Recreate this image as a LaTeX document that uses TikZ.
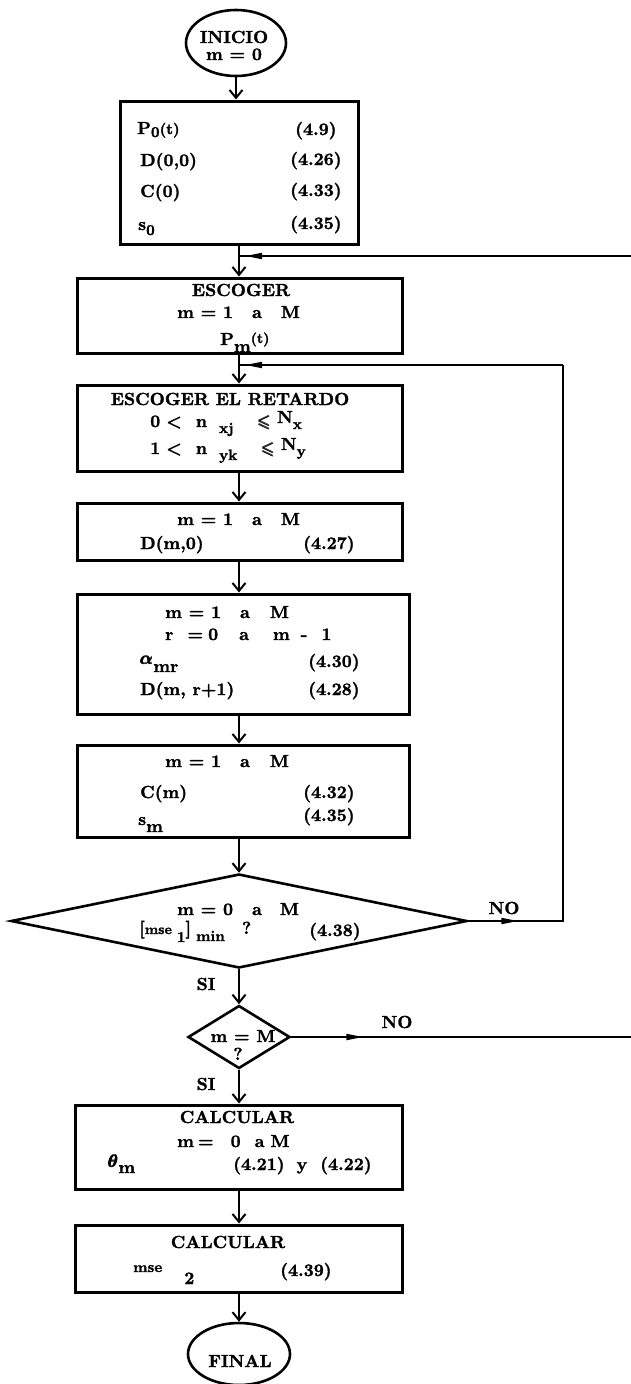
\documentclass[tikz,border=0pt]{standalone}
\usepackage{fontspec}
\setmainfont{lmroman10}[Extension=.otf, UprightFont=*-regular,
  BoldFont=*-bold, BoldFeatures={FakeBold=1.6}]
\usepackage{amsmath,amssymb}
\usetikzlibrary{shapes.geometric,arrows.meta,decorations.markings}

\newcommand{\bajo}[2][-6pt]{\raisebox{#1}{\fontsize{15}{15}\selectfont #2}}
\newcommand{\chico}[1]{{\fontsize{14}{14}\selectfont #1}}

\tikzset{
  txt/.style={font=\fontsize{17.5}{19}\selectfont\bfseries, inner sep=0pt},
  izq/.style={txt, anchor=base west},
  cen/.style={txt, anchor=base},
  bloque/.style 2 args={draw, rectangle, line width=3pt, inner sep=0pt,
    minimum width=#1, minimum height=#2},
  rombo/.style 2 args={draw, diamond, line width=2.6pt, inner sep=0pt,
    minimum width=#1, minimum height=#2},
  ovalo/.style={draw, ellipse, line width=2.6pt, inner sep=0pt,
    minimum width=100, minimum height=66},
  flecha/.style={line width=2pt, -{Straight Barb[length=8pt,width=13pt]}},
  linea/.style={line width=1.8pt},
  punta/.style={decoration={markings, mark=at position #1 with
    {\arrow{Triangle[length=17pt,width=6pt]}}}, postaction={decorate}}
}

\begin{document}
\begin{tikzpicture}[x=1pt, y=-1pt]
  \useasboundingbox (0,0) rectangle (631,1384);
  \coordinate (eje) at (239,0);

  % inicio
  \node[ovalo] (inicio) at (236,43) {};
  \node[cen] (tinicio) at (234,43) {INICIO};
  \node[cen] (tm0) at (234,60) {m = 0};

  % valores iniciales
  \node[bloque={238}{143}] (b1) at (239,172.5) {};
  \node[izq] (p0) at (137,134) {P\bajo[-3pt]{0}{\fontsize{15}{15}\selectfont(t)}};
  \node[izq] (d00) at (140,166) {D(0,0)};
  \node[izq] (c0) at (140,197) {C(0)};
  \node[izq] (s0) at (138,230) {s\bajo[-5pt]{0}};
  \node[izq] (e49) at (295,135) {(4.9)};
  \node[izq] (e426) at (290,165) {(4.26)};
  \node[izq] (e433) at (290,196) {(4.33)};
  \node[izq] (e435a) at (290,229) {(4.35)};

  % escoger
  \node[bloque={325}{75}] (b2) at (239.5,315.5) {};
  \node[cen] (tesc) at (241,296) {ESCOGER};
  \node[izq] (tm1a) at (177,318) {m = 1\hspace{19pt}a\hspace{19pt}M};
  \node[izq] (pm) at (220,345) {P\raisebox{-7pt}{m}\raisebox{2pt}{\chico{(t)}}};

  % retardo
  \node[bloque={325}{86}] (b3) at (239.5,428) {};
  \node[cen] (tret) at (230,405) {ESCOGER EL RETARDO};
  \node[izq] (nx) at (150,427) {0\hspace{6pt}<\hspace{14pt}n\hspace{12pt}\bajo{xj}\hspace{24pt}$\pmb{\leqslant}$\hspace{6pt}\raisebox{4pt}{N\bajo{x}}};
  \node[izq] (ny) at (150,454) {1\hspace{6pt}<\hspace{14pt}n\hspace{12pt}\bajo{yk}\hspace{24pt}$\pmb{\leqslant}$\hspace{6pt}\raisebox{4pt}{N\bajo{y}}};

  % D(m,0)
  \node[bloque={325}{57}] (b4) at (239.5,531.5) {};
  \node[izq] (tm1b) at (177,525) {m = 1\hspace{19pt}a\hspace{19pt}M};
  \node[izq] (dm0) at (140,549) {D(m,0)};
  \node[izq] (e427) at (303,549) {(4.27)};

  % alfa y D(m,r+1)
  \node[bloque={332}{120}] (b5) at (243,654) {};
  \node[izq] (tm1c) at (165,618) {m = 1\hspace{19pt}a\hspace{20pt}M};
  \node[izq] (tr0) at (165,640) {r\hspace{14pt}=\hspace{5pt}0\hspace{21pt}a\hspace{24pt}m\hspace{11pt}-\hspace{14pt}1};
  \node[izq] (alfa) at (140,664) {$\pmb{\boldsymbol{\alpha}}$\raisebox{-8pt}{mr}};
  \node[izq] (e430) at (308,667) {(4.30)};
  \node[izq] (dmr) at (140,695) {D(m, r+1)};
  \node[izq] (e428) at (308,695) {(4.28)};

  % C(m) y s_m
  \node[bloque={332}{92}] (b6) at (243,791) {};
  \node[izq] (tm1d) at (165,767) {m = 1\hspace{19pt}a\hspace{20pt}M};
  \node[izq] (cm) at (140,798) {C(m)};
  \node[izq] (e432) at (303,798) {(4.32)};
  \node[izq] (sm) at (138,825) {s\raisebox{-7pt}{m}};
  \node[izq] (e435b) at (303,821) {(4.35)};

  % decisiones
  \node[rombo={456}{94}] (d1) at (239,921) {};
  \node[izq] (tm0b) at (177,915) {m = 0\hspace{19pt}a\hspace{18pt}M};
  \node[izq] (tmse) at (139,934) {[\chico{mse}\hspace{5pt}\bajo[-8pt]{1}]\hspace{5pt}\bajo[-7pt]{min}\hspace{17pt}?};
  \node[izq] (e438) at (309,936) {(4.38)};
  \node[rombo={102}{63}] (d2) at (239,1037) {};
  \node[cen] (tmM) at (243,1042) {m = M};
  \node[cen] (tq) at (238,1060) {?};
  \node[cen] (no1) at (504,914) {NO};
  \node[cen] (no2) at (397,1028) {NO};
  \node[cen] (si1) at (206,990) {SI};
  \node[cen] (si2) at (206,1090) {SI};

  % calcular theta
  \node[bloque={327}{84}] (b7) at (238.5,1147) {};
  \node[cen] (tcal1) at (237,1123) {CALCULAR};
  \node[izq] (tm0c) at (177,1147) {m\hspace{4pt}=\hspace{17pt}0\hspace{14pt}a\hspace{6pt}M};
  \node[izq] (theta) at (108,1167) {$\pmb{\boldsymbol{\theta}}$\raisebox{-6pt}{m}};
  \node[izq] (e421) at (233,1170) {(4.21)\hspace{12pt}y\hspace{13pt}(4.22)};

  % calcular mse
  \node[bloque={327}{67}] (b8) at (238.5,1258.5) {};
  \node[cen] (tcal2) at (228,1248) {CALCULAR};
  \node[izq] (mse2) at (133,1272) {{\fontsize{15}{15}\selectfont mse}\hspace{22pt}\raisebox{-12pt}{2}};
  \node[izq] (e439) at (280,1276) {(4.39)};

  % final
  \node[ovalo, minimum width=102, minimum height=62] (fin) at (239,1354) {};
  \node[cen] (tfin) at (240,1367) {FINAL};

  % conectores
  \draw[flecha] (inicio.south) -- (inicio.south |- b1.north);
  \draw[flecha] (eje |- b1.south) -- (eje |- b2.north);
  \draw[flecha] (eje |- b2.south) -- (eje |- b3.north);
  \draw[flecha] (eje |- b3.south) -- (eje |- b4.north);
  \draw[flecha] (eje |- b4.south) -- (eje |- b5.north);
  \draw[flecha] (eje |- b5.south) -- (eje |- b6.north);
  \draw[flecha] (eje |- b6.south) -- (d1.north);
  \draw[flecha] (d1.south) -- (d2.north);
  \draw[flecha] (d2.south) -- (eje |- b7.north);
  \draw[flecha] (eje |- b7.south) -- (eje |- b8.north);
  \draw[flecha] (eje |- b8.south) -- (fin.north);

  % retornos
  \coordinate (ret1) at (631,256);
  \coordinate (esq) at (563,365);
  \coordinate (ret2) at (631,1037);
  \draw[linea, punta=-6pt] (ret1) -- (eje |- ret1);
  \draw[linea, punta=-6pt] (esq) -- (eje |- esq);
  \draw[linea, punta=50pt] (d1.east) -| (esq);
  \draw[linea, punta=72pt] (d2.east) -- (ret2);
\end{tikzpicture}
\end{document}
